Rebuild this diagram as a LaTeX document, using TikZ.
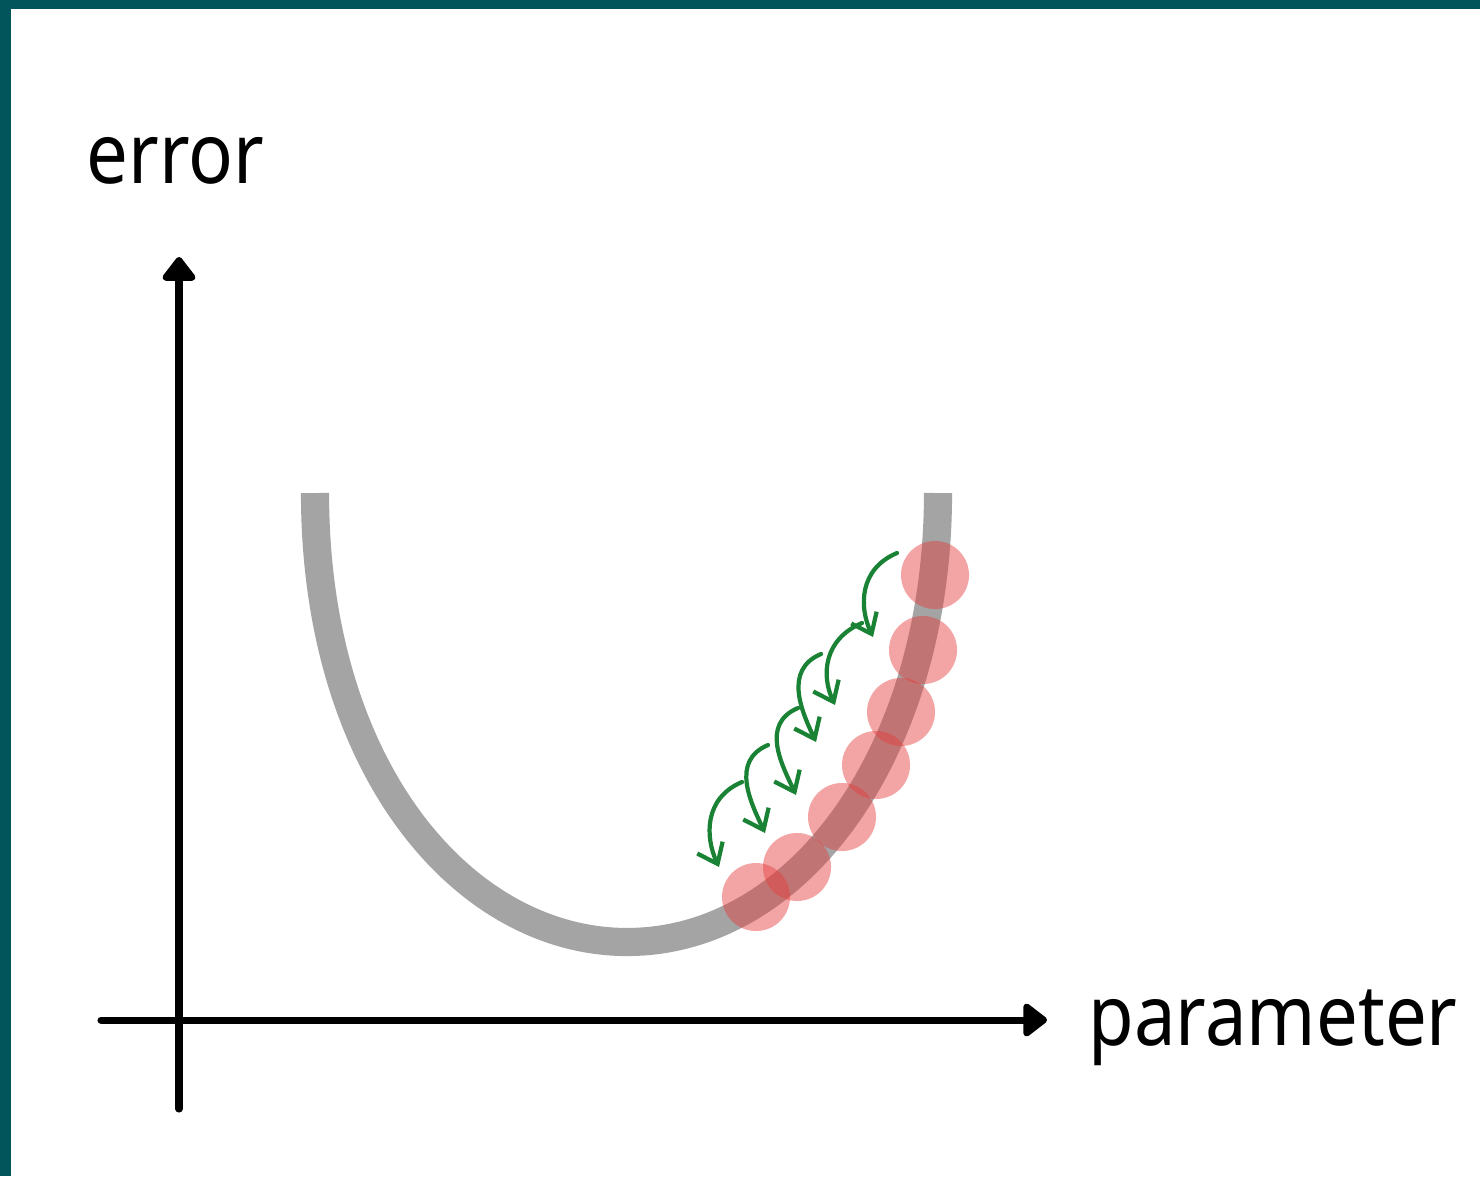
\documentclass[tikz,border=0pt]{standalone}
\usepackage{fontspec}
\setmainfont{Noto Sans}
\usetikzlibrary{arrows.meta}
\definecolor{frameteal}{RGB}{3,85,92}
\definecolor{curvegray}{RGB}{164,164,164}
\definecolor{stepred}{RGB}{229,61,61}
\definecolor{stepgreen}{RGB}{26,130,52}

\begin{document}
\begin{tikzpicture}[x=0.01cm, y=-0.01cm]
    \tikzset{
        axis line/.style={
                line width=2pt, line cap=round,
                -{Triangle[length=2.6mm, width=3.8mm, round]}
            },
        axis label/.style={
                font=\fontsize{24}{28}\selectfont, anchor=base west, inner sep=0pt, xscale=0.88
            },
        loss curve/.style={line width=8pt, draw=curvegray},
        step dot/.style={
                circle, fill=stepred, fill opacity=0.46, minimum size=0.68cm, inner sep=0pt
            },
        step arrow/.style={
                draw=stepgreen, line width=1.2pt, line cap=round,
                -{Straight Barb[length=1.8mm, width=2.8mm]}
            }
    }

    % Frame
    \useasboundingbox (0,0) rectangle (1480,1176);
    \fill[frameteal] (0,0) rectangle (1480,1176);
    \fill[white] (11,9) rectangle (1480,1176);

    % Axes
    \coordinate (y bottom) at (179,1109);
    \coordinate (y top) at (179,257);
    \coordinate (x left) at (101,1020);
    \coordinate (x right) at (1047,1020);
    \draw[axis line] (y bottom) -- (y top);
    \draw[axis line] (x left) -- (x right);
    \node[axis label] (error label) at (86,183) {error};
    \node[axis label] (parameter label) at (1088,1045) {parameter};

    % Error curve
    \coordinate (curve left) at (315,493);
    \coordinate (curve min) at (627,942);
    \coordinate (curve right) at (938,493);
    \draw[loss curve] (curve left) .. controls (315,770) and (465,942) .. (curve min)
        .. controls (800,942) and (938,750) .. (curve right);

    % Steps
    \node[step dot] (dot1) at (935,575) {};
    \node[step dot] (dot2) at (923,650) {};
    \node[step dot] (dot3) at (901,712) {};
    \node[step dot] (dot4) at (876,765) {};
    \node[step dot] (dot5) at (842,817) {};
    \node[step dot] (dot6) at (797,867) {};
    \node[step dot] (dot7) at (756,897) {};

    % Step arrows
    \coordinate (s1) at (897,553); \coordinate (e1) at (873,637);
    \coordinate (s2) at (862,623); \coordinate (e2) at (835,705);
    \coordinate (s3) at (821,654); \coordinate (e3) at (816,742);
    \coordinate (s4) at (798,708); \coordinate (e4) at (796,795);
    \coordinate (s5) at (768,745); \coordinate (e5) at (765,833);
    \coordinate (s6) at (742,782); \coordinate (e6) at (719,867);
    \draw[step arrow] (s1) .. controls +(-38,16) and +(-14,-30) .. (e1);
    \draw[step arrow] (s2) .. controls +(-38,16) and +(-14,-30) .. (e2);
    \draw[step arrow] (s3) .. controls +(-38,16) and +(-14,-30) .. (e3);
    \draw[step arrow] (s4) .. controls +(-38,16) and +(-14,-30) .. (e4);
    \draw[step arrow] (s5) .. controls +(-38,16) and +(-14,-30) .. (e5);
    \draw[step arrow] (s6) .. controls +(-38,16) and +(-14,-30) .. (e6);
\end{tikzpicture}
\end{document}
